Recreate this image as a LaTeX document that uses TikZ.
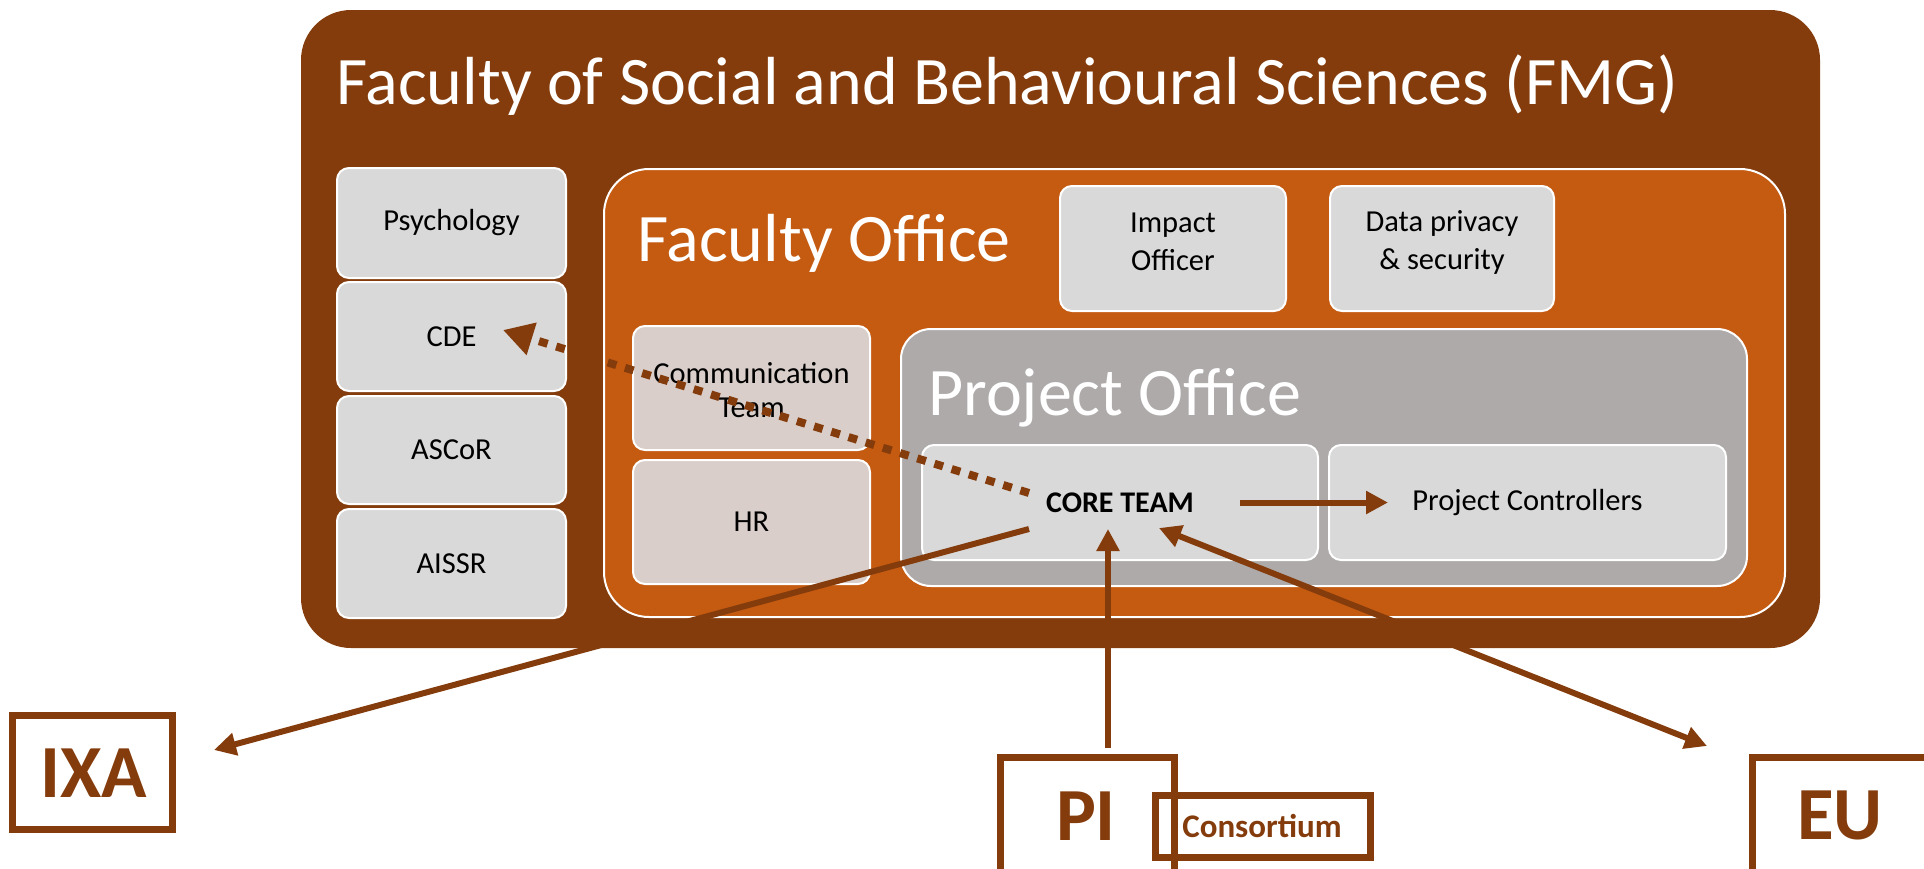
\documentclass[tikz,border=0pt]{standalone}
\usepackage{fontspec}
\setmainfont{Carlito}
\usetikzlibrary{arrows.meta}
\definecolor{fbrown}{HTML}{843C0C}
\definecolor{forange}{HTML}{C55A11}
\definecolor{pgray}{HTML}{AEAAAA}
\definecolor{lgray}{HTML}{D9D9D9}
\definecolor{pinkgray}{HTML}{D9CEC9}
\tikzset{
  unitbox/.style={rectangle, rounded corners=12pt, draw=white, line width=2pt, fill=lgray, inner sep=0pt, outer sep=0pt, font=\fontsize{30.5}{36}\selectfont, align=center, text=black},
  pinkbox/.style={unitbox, fill=pinkgray},
  extbox/.style={rectangle, draw=fbrown, line width=7pt, inner sep=0pt, outer sep=0pt},
  extlabel/.style={text=fbrown, font=\fontsize{75}{82}\bfseries\selectfont, inner sep=0pt},
  bigtitle/.style={text=white, font=\fontsize{68}{80}\selectfont, inner sep=0pt, anchor=base west},
  arr/.style={draw=fbrown, line width=6pt, -{Triangle[length=22pt,width=22pt]}},
  dblarr/.style={draw=fbrown, line width=6pt, {Triangle[length=22pt,width=22pt]}-{Triangle[length=22pt,width=22pt]}},
  dotarr/.style={draw=fbrown, line width=8pt, dash pattern=on 9pt off 9pt, -{Triangle[length=30pt,width=32pt]}},
}
\begin{document}
\begin{tikzpicture}[x=1pt,y=-1pt]
\useasboundingbox (0,0) rectangle (1924,868);
\clip (0,0) rectangle (1924,868);
% outer faculty box
\node[rectangle, rounded corners=50pt, fill=fbrown, minimum width=1519pt, minimum height=638pt, inner sep=0pt] (fmg) at (1060.5,329) {};
\node[bigtitle] (fmgtitle) at (336,104) {Faculty of Social and Behavioural Sciences (FMG)};
% institutes
\node[unitbox, minimum width=229pt, minimum height=110pt] (psych) at (451.5,223) {Psychology};
\node[unitbox, minimum width=229pt, minimum height=109pt] (cde) at (451.5,336.5) {CDE};
\node[unitbox, minimum width=229pt, minimum height=108pt] (ascor) at (451.5,450) {ASCoR};
\node[unitbox, minimum width=229pt, minimum height=109pt] (aissr) at (451.5,563.5) {AISSR};
% faculty office
\node[rectangle, rounded corners=45pt, fill=forange, draw=white, line width=2pt, minimum width=1181pt, minimum height=448pt, inner sep=0pt] (facoff) at (1194.5,393) {};
\node[bigtitle] (facofftitle) at (637,261) {Faculty Office};
\node[pinkbox, minimum width=237pt, minimum height=124pt] (comm) at (751.5,388) {};
\node[font=\fontsize{30.5}{34}\selectfont, align=center, inner sep=0pt] (commtxt) at (751.5,390) {Communication\\Team};
\node[pinkbox, minimum width=237pt, minimum height=124pt] (hr) at (751.5,522) {HR};
\node[unitbox, minimum width=226pt, minimum height=125pt] (impact) at (1173,248.5) {};
\node[font=\fontsize{30.5}{38}\selectfont, align=center, inner sep=0pt] (impacttxt) at (1173,242) {Impact\\Officer};
\node[unitbox, minimum width=224pt, minimum height=125pt] (data) at (1442,248.5) {};
\node[font=\fontsize{30.5}{38}\selectfont, align=center, inner sep=0pt] (datatxt) at (1442,242) {Data privacy\\\& security};
% project office
\node[rectangle, rounded corners=30pt, fill=pgray, draw=white, line width=2pt, minimum width=846pt, minimum height=257pt, inner sep=0pt] (projoff) at (1324,457.5) {};
\node[bigtitle] (projofftitle) at (928,415) {Project Office};
\node[unitbox, minimum width=396pt, minimum height=115pt, font=\fontsize{30}{36}\bfseries\selectfont] (core) at (1120,502.5) {CORE TEAM};
\node[unitbox, minimum width=397pt, minimum height=115pt] (pc) at (1527.5,502.5) {Project Controllers};
% external parties
\node[extbox, minimum width=160pt, minimum height=114pt] (ixa) at (92,772) {};
\node[extlabel] (ixatxt) at (94,773) {IXA};
\node[extbox, minimum width=174pt, minimum height=123pt] (pi) at (1087,818.5) {};
\node[extlabel] (pitxt) at (1086,816) {PI};
\node[extbox, minimum width=215pt, minimum height=62pt] (cons) at (1262.5,826) {};
\node[text=fbrown, font=\fontsize{33}{36}\bfseries\selectfont, inner sep=0pt] (constxt) at (1262,826) {Consortium};
\node[extbox, minimum width=188pt, minimum height=123pt] (eu) at (1846,818.5) {};
\node[extlabel] (eutxt) at (1840,815) {EU};
% connector end points
\coordinate (dotS) at (1029,493);
\coordinate (dotE) at (503,330);
\coordinate (ixaS) at (1029,529);
\coordinate (ixaE) at (214,750);
\coordinate (piS) at (1108,748);
\coordinate (piE) at (1108,529);
\coordinate (euS) at (1159,528);
\coordinate (euE) at (1707,746);
% connectors
\draw[arr, shorten <=120pt, shorten >=139.5pt] (core.center) -- (pc.center);
\draw[dotarr] (dotS) -- (dotE);
\draw[arr] (ixaS) -- (ixaE);
\draw[arr] (piS) -- (piE);
\draw[dblarr] (euS) -- (euE);
\end{tikzpicture}
\end{document}
